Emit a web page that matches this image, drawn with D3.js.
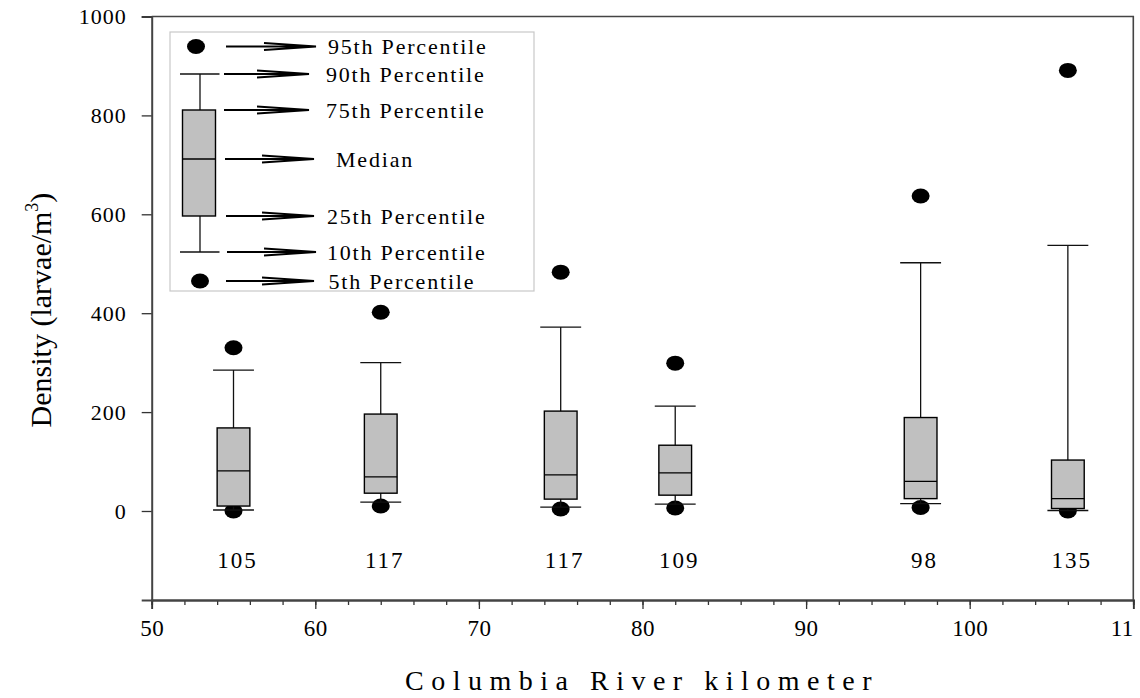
<!DOCTYPE html>
<html>
<head>
<meta charset="utf-8">
<title>Larval density by river kilometer</title>
<script src="https://cdn.jsdelivr.net/npm/d3@7"></script>
<style>
  body { margin: 0; background: #fff; }
  svg { display: block; }
  text { font-family: "Liberation Serif", "Times New Roman", serif; fill: #000; }
</style>
</head>
<body>
<div id="chart"></div>
<script>

// river kilometer of each sampling site
var km = [55, 64, 75, 82, 97, 106];
// number of samples, printed under each box
var counts = [105, 117, 117, 109, 98, 135];

// percentiles of density (larvae/m3)
var p5  = [0, 10, 4, 6, 7, 0];
var p10 = [2, 18, 8, 14, 15, 1];
var p25 = [10, 36, 24, 32, 25, 5];
var p50 = [81, 69, 73, 77, 60, 25];
var p75 = [168, 196, 202, 133, 189, 103];
var p90 = [285, 300, 372, 212, 502, 537];
var p95 = [330, 402, 483, 299, 637, 891];

var xTicks = [50, 60, 70, 80, 90, 100, 110];
// the last label is cut to "11" at the edge of the original figure
var xTickLabels = ["50", "60", "70", "80", "90", "100", "11"];
var xMinorTicks = d3.range(50, 111, 2);
var yTicks = [0, 200, 400, 600, 800, 1000];

var legendLabels = ["95th Percentile", "90th Percentile", "75th Percentile", "Median",
                    "25th Percentile", "10th Percentile", "5th Percentile"];

// build rows for the boxes
var data = km.map(function(k, i) {
  return { km: k, n: counts[i], p5: p5[i], p10: p10[i], p25: p25[i],
           p50: p50[i], p75: p75[i], p90: p90[i], p95: p95[i] };
});

var margin = {top: 16.5, right: 6.7, bottom: 98, left: 151.7},
    width = 1140 - margin.left - margin.right,
    height = 698 - margin.top - margin.bottom;

var svg = d3.select("#chart")
  .append("svg")
    .attr("width", 1140)
    .attr("height", 698);

var g = svg.append("g")
    .attr("transform", "translate(" + margin.left + "," + margin.top + ")");

var x = d3.scaleLinear().domain([50, 110]).range([0, width]);
var y = d3.scaleLinear().domain([-180, 1000]).range([height, 0]);

var boxW = x(52) - x(50);
var capW = x(52.5) - x(50);

// frame (top and right)
g.append("path")
  .attr("d", "M0,0H" + width + "V" + height)
  .attr("fill", "none")
  .attr("stroke", "#444")
  .attr("stroke-width", 1.6);

// x axis
var xAxis = g.append("g")
  .attr("transform", "translate(0," + height + ")");
xAxis.call(d3.axisBottom(x).tickValues(xMinorTicks).tickSize(5).tickFormat(""));
xAxis.append("g")
  .call(d3.axisBottom(x).tickValues(xTicks).tickSize(9).tickPadding(11)
    .tickFormat(function(d, i) { return xTickLabels[i]; }));
xAxis.selectAll("path.domain").attr("stroke", "#444").attr("stroke-width", 1.8);
xAxis.selectAll(".tick line").attr("stroke", "#333").attr("stroke-width", 1.3);
xAxis.selectAll("text")
  .style("font-family", "Liberation Serif")
  .style("font-size", "23px")
  .style("letter-spacing", "0.5px")
  .attr("fill", "#000");
// keep the cut label flush with the right edge
xAxis.selectAll(".tick text").filter(function(d) { return d === 110; })
  .attr("text-anchor", "end");

// y axis
var yAxis = g.append("g")
  .call(d3.axisLeft(y).tickValues(yTicks).tickSize(10).tickPadding(15).tickFormat(d3.format("d")));
yAxis.select("path.domain").attr("stroke", "#444").attr("stroke-width", 2);
yAxis.selectAll(".tick line").attr("stroke", "#333").attr("stroke-width", 1.3);
yAxis.selectAll("text")
  .style("font-family", "Liberation Serif")
  .style("font-size", "22px")
  .style("letter-spacing", "1px")
  .attr("fill", "#000");

// 5th and 95th percentile dots (drawn first, boxes sit on top)
var dots = g.append("g");
dots.selectAll("ellipse.hi")
  .data(data)
  .enter().append("ellipse")
    .attr("cx", function(d) { return x(d.km); })
    .attr("cy", function(d) { return y(d.p95); })
    .attr("rx", 9).attr("ry", 7.5)
    .attr("fill", "#000");
dots.selectAll("ellipse.lo")
  .data(data)
  .enter().append("ellipse")
    .attr("cx", function(d) { return x(d.km); })
    .attr("cy", function(d) { return y(d.p5); })
    .attr("rx", 9).attr("ry", 7.5)
    .attr("fill", "#000");

var boxes = g.selectAll("g.box")
  .data(data)
  .enter().append("g")
    .attr("class", "box");

// whisker
boxes.append("line")
  .attr("x1", function(d) { return x(d.km); })
  .attr("x2", function(d) { return x(d.km); })
  .attr("y1", function(d) { return y(d.p10); })
  .attr("y2", function(d) { return y(d.p90); })
  .attr("stroke", "#111").attr("stroke-width", 1.3);
// caps
boxes.selectAll("line.cap")
  .data(function(d) { return [{km: d.km, v: d.p10}, {km: d.km, v: d.p90}]; })
  .enter().append("line")
    .attr("x1", function(d) { return x(d.km) - capW / 2; })
    .attr("x2", function(d) { return x(d.km) + capW / 2; })
    .attr("y1", function(d) { return y(d.v); })
    .attr("y2", function(d) { return y(d.v); })
    .attr("stroke", "#111").attr("stroke-width", 1.3);
// box
boxes.append("rect")
  .attr("x", function(d) { return x(d.km) - boxW / 2; })
  .attr("y", function(d) { return y(d.p75); })
  .attr("width", boxW)
  .attr("height", function(d) { return y(d.p25) - y(d.p75); })
  .attr("fill", "#c0c0c0")
  .attr("stroke", "#000").attr("stroke-width", 1.4);
// median
boxes.append("line")
  .attr("x1", function(d) { return x(d.km) - boxW / 2; })
  .attr("x2", function(d) { return x(d.km) + boxW / 2; })
  .attr("y1", function(d) { return y(d.p50); })
  .attr("y2", function(d) { return y(d.p50); })
  .attr("stroke", "#000").attr("stroke-width", 1.3);

// sample counts
g.selectAll("text.count")
  .data(data)
  .enter().append("text")
    .attr("class", "count")
    .attr("x", function(d) { return x(d.km) + 4; })
    .attr("y", y(-115))
    .attr("text-anchor", "middle")
    .style("font-size", "23px")
    .style("letter-spacing", "2px")
    .text(function(d) { return d.n; });

// legend
var legend = svg.append("g").attr("transform", "translate(170,32)");
legend.append("rect")
  .attr("width", 364).attr("height", 259)
  .attr("fill", "#fff")
  .attr("stroke", "#c8c8c8").attr("stroke-width", 1.2);

var rowY = [14.5, 42, 78, 127, 184, 220, 249];
var sx = 30; // centre of the sample box
legend.append("ellipse").attr("cx", 26).attr("cy", rowY[0]).attr("rx", 9).attr("ry", 7.5).attr("fill", "#000");
legend.append("ellipse").attr("cx", 30).attr("cy", rowY[6]).attr("rx", 9).attr("ry", 7.5).attr("fill", "#000");
legend.append("line").attr("x1", sx).attr("x2", sx).attr("y1", rowY[1]).attr("y2", rowY[5])
  .attr("stroke", "#111").attr("stroke-width", 1.3);
[rowY[1], rowY[5]].forEach(function(v) {
  legend.append("line").attr("x1", 10).attr("x2", 49.5).attr("y1", v).attr("y2", v)
    .attr("stroke", "#111").attr("stroke-width", 1.3);
});
legend.append("rect").attr("x", 12.5).attr("y", rowY[2]).attr("width", 33)
  .attr("height", rowY[4] - rowY[2])
  .attr("fill", "#c0c0c0").attr("stroke", "#000").attr("stroke-width", 1.4);
legend.append("line").attr("x1", 12.5).attr("x2", 45.5).attr("y1", rowY[3]).attr("y2", rowY[3])
  .attr("stroke", "#000").attr("stroke-width", 1.3);

var arrowX0 = [56, 54, 54, 55, 56, 57, 56];
var arrowX1 = [146, 139, 139, 144, 144, 146, 144];
var textX = [158, 156, 156, 166, 157, 157, 158.5];
legendLabels.forEach(function(lbl, i) {
  var yy = rowY[i], x0 = arrowX0[i], x1 = arrowX1[i];
  legend.append("path")
    .attr("d", "M" + x0 + "," + yy + "H" + x1 +
               "M" + (x1 - 52) + "," + (yy - 3.5) + "L" + x1 + "," + yy + "L" + (x1 - 52) + "," + (yy + 3.5))
    .attr("fill", "none").attr("stroke", "#000").attr("stroke-width", 2);
  legend.append("text")
    .attr("x", textX[i]).attr("y", yy + 7.5)
    .style("font-size", "22px")
    .style("letter-spacing", "1.8px")
    .text(lbl);
});

// axis titles
var yt = svg.append("text")
  .attr("transform", "translate(51,310) rotate(-90)")
  .attr("text-anchor", "middle")
  .style("font-size", "30px");
yt.append("tspan").text("Density (larvae/m");
yt.append("tspan").attr("dy", -13).style("font-size", "18px").text("3");
yt.append("tspan").attr("dy", 13).text(")");

svg.append("text")
  .attr("x", 642).attr("y", 690)
  .attr("text-anchor", "middle")
  .style("font-size", "28px")
  .style("letter-spacing", "7.5px")
  .text("Columbia River kilometer");

</script>
</body>
</html>
